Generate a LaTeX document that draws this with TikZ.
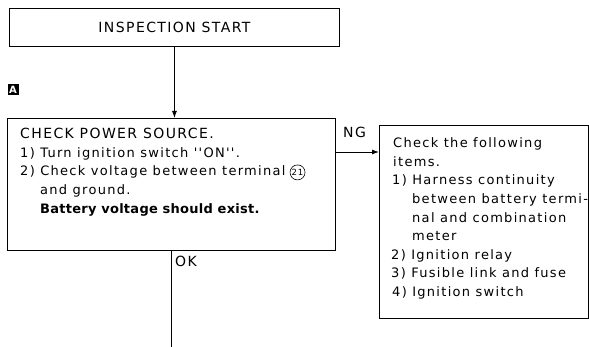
\documentclass[tikz,border=0pt]{standalone}
\usepackage{fontspec}
\setmainfont{DejaVu Sans}[LetterSpace=10, Ligatures=TeXOff]
\newfontfamily\boldfont{DejaVu Sans Bold}[LetterSpace=2]
\usetikzlibrary{arrows.meta}
\begin{document}
\begin{tikzpicture}[x=1pt,y=-1pt,
  box/.style={draw, line width=0.9pt, inner sep=0pt, anchor=north west},
  txt/.style={anchor=base west, inner sep=0pt, font=\fontsize{13}{15}\selectfont},
  captxt/.style={txt, font=\fontsize{14}{16}\selectfont},
  arr/.style={line width=0.9pt, -{Latex[length=7pt,width=5pt]}},
  conn/.style={line width=0.9pt}]
\useasboundingbox (0,0) rectangle (589,347);
% boxes
\node[box, minimum width=330pt, minimum height=38pt, font=\fontsize{14}{16}\selectfont] (start) at (9,8) {INSPECTION START};
\node[box, minimum width=328pt, minimum height=132pt] (main) at (7,118) {};
\node[box, minimum width=209pt, minimum height=193pt] (rbox) at (379,125) {};
% label A
\node[fill=black, text=white, minimum size=11pt, inner sep=0pt, font=\boldfont\fontsize{10}{10}\selectfont] (lblA) at (13,90) {A};
% main text
\node[captxt] (m1) at (20,138.5) {CHECK POWER SOURCE.};
\node[txt] (m2) at (20,157.5) {1) Turn ignition switch ''ON''.};
\node[txt] (m3) at (20,176) {2) Check voltage between terminal};
\node[draw, circle, line width=0.6pt, inner sep=0.3pt, minimum size=15pt, anchor=west, font=\fontsize{8.5}{9}\selectfont] (c21) at ([xshift=4pt]m3.east) {21};
\node[txt] (m4) at (40,195) {and ground.};
\node[txt, font=\boldfont\fontsize{13}{15}\selectfont] (m5) at (40,213.5) {Battery voltage should exist.};
% right text
\node[txt] (r1) at (393,147.7) {Check the following};
\node[txt] (r2) at (393,166.3) {items.};
\node[txt] (r3) at (392,184.9) {1) Harness continuity};
\node[txt] (r4) at (412,203.5) {between battery termi-};
\node[txt] (r5) at (412,222.1) {nal and combination};
\node[txt] (r6) at (412,240.7) {meter};
\node[txt] (r7) at (391,259.3) {2) Ignition relay};
\node[txt] (r8) at (391,277.9) {3) Fusible link and fuse};
\node[txt] (r9) at (392,296.5) {4) Ignition switch};
% labels
\node[captxt] (ng) at (343,138) {NG};
\node[captxt] (ok) at (175,267) {OK};
% connectors
\coordinate (ngy) at (0,152);
\coordinate (okend) at (0,347);
\draw[arr] (start.south) -- (start.south |- main.north);
\draw[arr] (main.east |- ngy) -- (rbox.west |- ngy);
\draw[conn] (main.south) -- (main.south |- okend);
\end{tikzpicture}
\end{document}
